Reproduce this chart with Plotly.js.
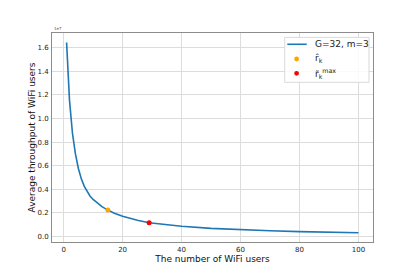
<!DOCTYPE html>
<html>
<head>
<meta charset="utf-8">
<script src="https://cdn.plot.ly/plotly-3.0.1.min.js"></script>
<style>html,body{margin:0;padding:0;background:#fff;}</style>
</head>
<body>
<div id="chart" style="width:415px;height:272px;"></div>
<script>
const users = [1,2,3,4,5,6,7,8,9,10,11,12,13,14,15,17,20,25,29,35,40,50,60,70,80,90,100];
const throughput = [1.645,1.15,0.873,0.70,0.576,0.488,0.424,0.377,0.341,0.313,0.290,0.270,0.252,0.237,0.224,0.199,0.170,0.136,0.116,0.097,0.086,0.068,0.056,0.047,0.040,0.035,0.031];
const rHatX = [15];
const rHatY = [0.224];
const rMaxX = [29];
const rMaxY = [0.116];
const yTicks = [0.0,0.2,0.4,0.6,0.8,1.0,1.2,1.4,1.6];
const xTicks = [0,20,40,60,80,100];
const seriesNames = ['G=32, m=3', 'r̂<sub>k</sub>', 'r̃<sub>k</sub><sup>max</sup>'];
const seriesColors = ['#1f77b4', 'orange', 'red'];

const font = "DejaVu Sans, sans-serif";
const traces = [
  {x: users, y: throughput, type: 'scatter', mode: 'lines', name: seriesNames[0],
   line: {color: seriesColors[0], width: 1.6}},
  {x: rHatX, y: rHatY, type: 'scatter', mode: 'markers', name: seriesNames[1],
   marker: {color: seriesColors[1], size: 5}},
  {x: rMaxX, y: rMaxY, type: 'scatter', mode: 'markers', name: seriesNames[2],
   marker: {color: seriesColors[2], size: 5}}
];
const axisCommon = {
  showline: true, mirror: true, linecolor: '#8c8c8c', linewidth: 1,
  showgrid: true, gridcolor: '#dcdcdc', gridwidth: 1,
  ticks: '', ticklabelstandoff: 1,
  tickfont: {family: font, size: 7, color: '#222'}, zeroline: false
};

// custom compact legend (matplotlib style)
const lx0 = 0.725, lx1 = 0.9875, ly0 = 0.764, ly1 = 0.979;
const symX = 0.762, textX = 0.812;
const rowY = [0.946, 0.8756, 0.807];
const shapes = [
  {type: 'rect', xref: 'paper', yref: 'paper', x0: lx0, x1: lx1, y0: ly0, y1: ly1,
   line: {color: '#d9d9d9', width: 1}, fillcolor: 'rgba(255,255,255,0.85)', layer: 'above'},
  {type: 'line', xref: 'paper', yref: 'paper', x0: 0.733, x1: 0.7935, y0: rowY[0], y1: rowY[0],
   line: {color: seriesColors[0], width: 1.6}, layer: 'above'}
];
[1, 2].forEach(i => {
  shapes.push({type: 'circle', xref: 'paper', yref: 'paper', xsizemode: 'pixel', ysizemode: 'pixel',
    xanchor: symX, yanchor: rowY[i], x0: -2.4, x1: 2.4, y0: -2.4, y1: 2.4,
    fillcolor: seriesColors[i], line: {width: 0}, layer: 'above'});
});
const annotations = [
  {xref: 'paper', yref: 'paper', x: 0, y: 1, xanchor: 'left', yanchor: 'bottom',
   text: '1e7', showarrow: false, font: {family: font, size: 4, color: '#555'}}
];
seriesNames.forEach((n, i) => {
  annotations.push({xref: 'paper', yref: 'paper', x: textX, y: rowY[i], xanchor: 'left', yanchor: 'middle',
    text: n, showarrow: false, font: {family: font, size: 9, color: '#222'}});
});

const layout = {
  width: 415, height: 272,
  margin: {l: 52, r: 42, t: 33, b: 30},
  paper_bgcolor: '#fff', plot_bgcolor: '#fff',
  showlegend: false,
  xaxis: Object.assign({}, axisCommon, {
    range: [-3.95, 104.95], tickvals: xTicks,
    title: {text: 'The number of WiFi users', font: {family: font, size: 9, color: '#111'}, standoff: 0}
  }),
  yaxis: Object.assign({}, axisCommon, {
    range: [-0.048, 1.726], tickvals: yTicks, tickformat: '.1f',
    title: {text: 'Average throughput of WiFi users', font: {family: font, size: 9, color: '#111'}, standoff: 0}
  }),
  shapes: shapes,
  annotations: annotations
};
Plotly.newPlot('chart', traces, layout, {displayModeBar: false, staticPlot: true});
</script>
</body>
</html>
